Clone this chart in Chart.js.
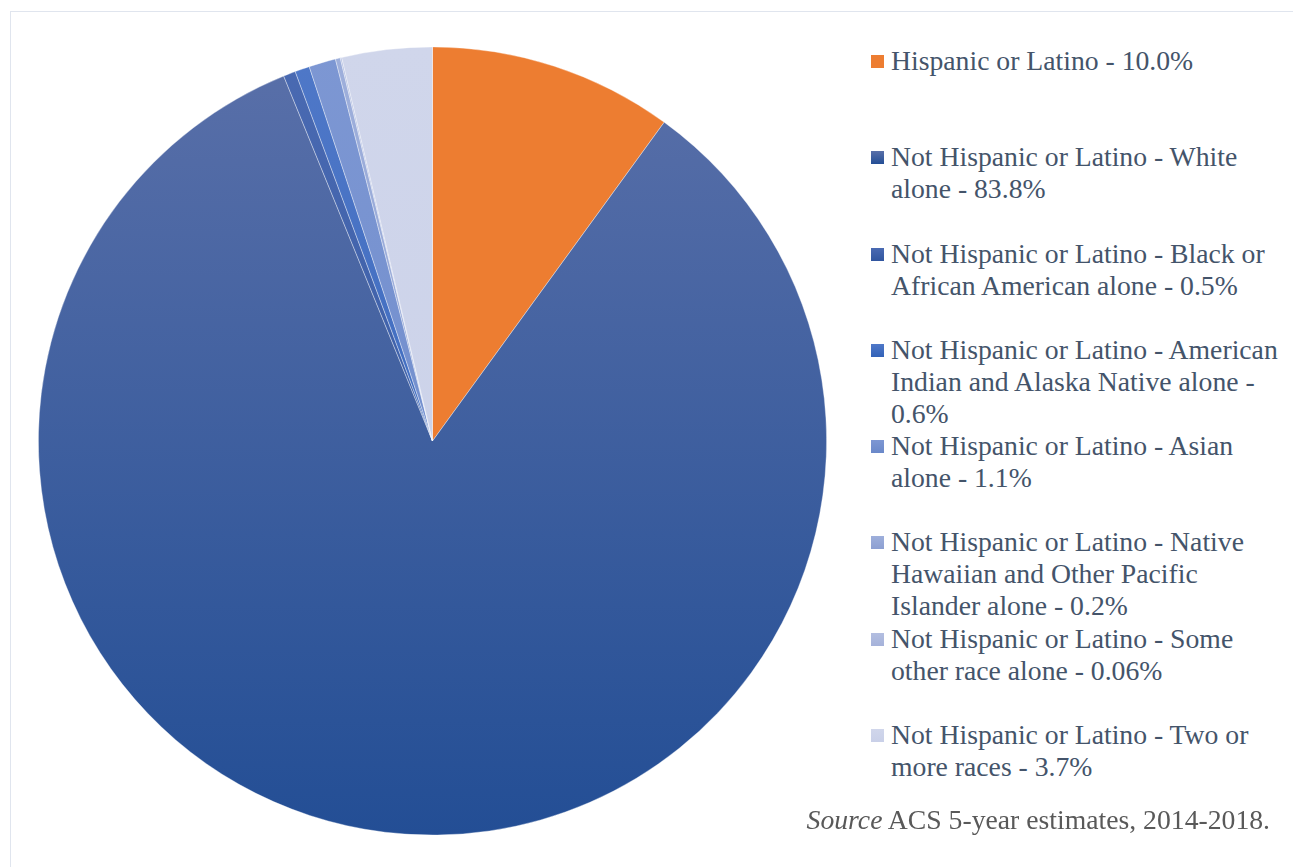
<!DOCTYPE html>
<html>
<head>
<meta charset="utf-8">
<script src="https://cdn.jsdelivr.net/npm/chart.js@4.4.0/dist/chart.umd.min.js"></script>
<style>
  html,body{margin:0;padding:0;background:#fff;width:1293px;height:867px;overflow:hidden;}
  #frame{position:absolute;left:10px;top:11px;width:1300px;height:900px;border:1.5px solid #e0e5ee;box-sizing:border-box;}
  #pie-wrap{position:absolute;left:38px;top:46px;width:789px;height:790px;}
  #legend{position:absolute;left:871px;top:45px;width:420px;margin:0;padding:0;list-style:none;
    font-family:"Liberation Serif","Times New Roman",serif;font-size:27.7px;color:#44546a;}
  #legend li{position:relative;height:96.3px;padding-left:20px;line-height:32px;}
  #legend li span.sw{position:absolute;left:0;top:10px;width:13px;height:13px;}
  #legend li span.tx{display:block;white-space:pre-line;}
  #source{position:absolute;right:23px;top:804px;font-family:"Liberation Serif","Times New Roman",serif;
    font-size:27.7px;color:#595959;white-space:nowrap;}
</style>
</head>
<body>
<div id="frame"></div>
<div id="pie-wrap"><canvas id="pie"></canvas></div>
<ul id="legend"></ul>
<div id="source"><i>Source</i> ACS 5-year estimates, 2014-2018.</div>
<script>
// ACS 5-year estimates 2014-2018, share of population by ethnicity / race
const groups=['Hispanic or Latino',
  'Not Hispanic or Latino - White alone',
  'Not Hispanic or Latino - Black or African American alone',
  'Not Hispanic or Latino - American Indian and Alaska Native alone',
  'Not Hispanic or Latino - Asian alone',
  'Not Hispanic or Latino - Native Hawaiian and Other Pacific Islander alone',
  'Not Hispanic or Latino - Some other race alone',
  'Not Hispanic or Latino - Two or more races'];
const shares=[10.0,83.8,0.5,0.6,1.1,0.2,0.06,3.7];
// legend text as it wraps in the original
const legendText=['Hispanic or Latino - 10.0%',
  'Not Hispanic or Latino - White\nalone - 83.8%',
  'Not Hispanic or Latino - Black or\nAfrican American alone - 0.5%',
  'Not Hispanic or Latino - American\nIndian and Alaska Native alone -\n0.6%',
  'Not Hispanic or Latino - Asian\nalone - 1.1%',
  'Not Hispanic or Latino - Native\nHawaiian and Other Pacific\nIslander alone - 0.2%',
  'Not Hispanic or Latino - Some\nother race alone - 0.06%',
  'Not Hispanic or Latino - Two or\nmore races - 3.7%'];
// top / bottom colour of each slice's vertical gradient
const topCols=['#ed7d31','#5a70a9','#4a6ab2','#4f78c8','#7d97d3','#9eafdb','#b3bee0','#d0d6eb'];
const botCols=['#ed7d31','#234e95','#30559f','#3262b8','#6a88c9','#8c9fd2','#a5b2da','#c9d0e8'];

const fill=c=>{
  const i=c.dataIndex, a=c.chart.chartArea;
  if(!a) return botCols[i];
  const g=c.chart.ctx.createLinearGradient(0,a.top,0,a.bottom);
  g.addColorStop(0,topCols[i]); g.addColorStop(1,botCols[i]);
  return g;
};

new Chart(document.getElementById('pie'),{
  type:'pie',
  data:{labels:groups,datasets:[{data:shares,backgroundColor:fill,
    borderColor:'rgba(255,255,255,0.45)',borderWidth:0.8}]},
  options:{responsive:true,maintainAspectRatio:false,animation:false,
    layout:{padding:0},
    plugins:{legend:{display:false},tooltip:{enabled:false}}}
});

const ul=document.getElementById('legend');
groups.forEach((g,i)=>{
  const li=document.createElement('li');
  const sw=document.createElement('span');
  sw.className='sw';
  sw.style.background='linear-gradient('+topCols[i]+','+botCols[i]+')';
  const tx=document.createElement('span');
  tx.className='tx';
  tx.textContent=legendText[i];
  li.appendChild(sw); li.appendChild(tx);
  ul.appendChild(li);
});
</script>
</body>
</html>
